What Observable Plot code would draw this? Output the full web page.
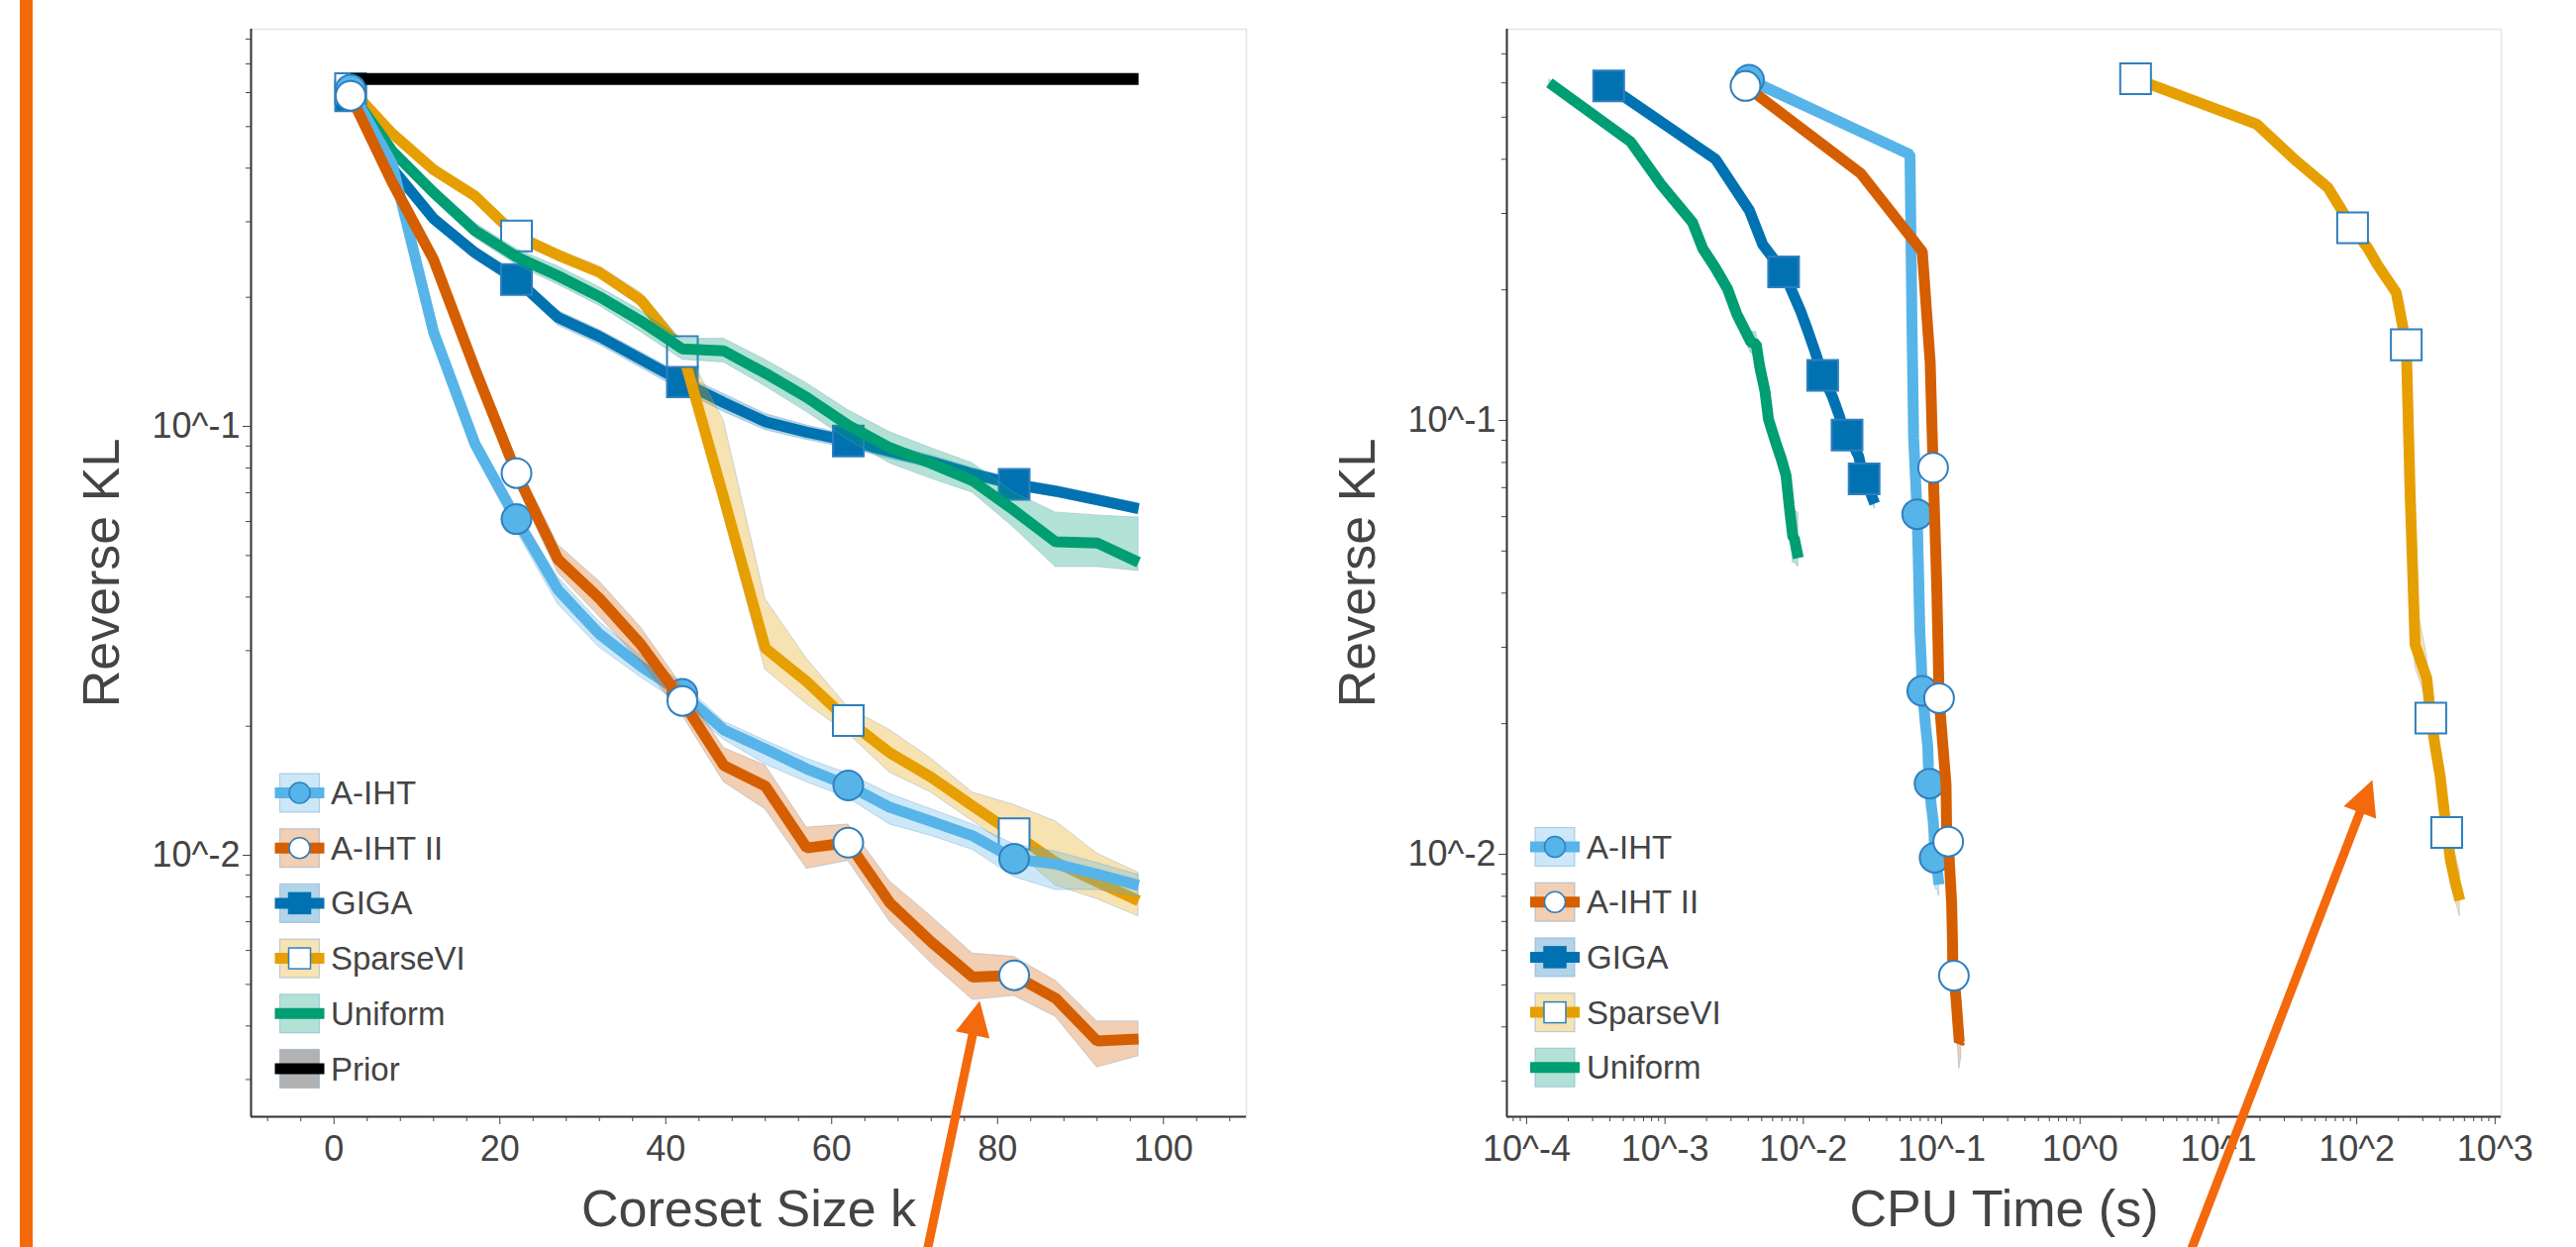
<!DOCTYPE html>
<html>
<head>
<meta charset="utf-8">
<script src="https://cdn.jsdelivr.net/npm/d3@7"></script>
<script src="https://cdn.jsdelivr.net/npm/@observablehq/plot@0.6"></script>
<style>
  html, body { margin: 0; padding: 0; background: #ffffff; }
  #root { position: relative; width: 2601px; height: 1259px; overflow: hidden; background: #ffffff;
          font-family: "Liberation Sans", Arial, Helvetica, sans-serif; }
  .panel { position: absolute; top: 0; }
  #sidebar { position: absolute; left: 20px; top: 0; width: 13px; height: 1259px; background: #F4690C; }
  #legend { position: absolute; left: 0; top: 0; pointer-events: none; }
</style>
</head>
<body>
<div id="root"><div id="sidebar"></div></div>
<script>
// ---------------- data ----------------
const coresetSizes = [2, 7, 12, 17, 22, 27, 32, 37, 42, 47, 52, 57, 62, 67, 72, 77, 82, 87, 92, 97];
const markerIndex = [0, 4, 8, 12, 16];

const klAIHT = [0.61, 0.41, 0.166, 0.091, 0.0608, 0.0416, 0.0328, 0.0276, 0.0238, 0.0196, 0.0177, 0.0159, 0.01455, 0.01294, 0.0120, 0.0111, 0.00982, 0.00954, 0.00904, 0.00851];
const loAIHT = [0.59, 0.40, 0.158, 0.086, 0.057, 0.0385, 0.0305, 0.026, 0.0224, 0.0186, 0.0163, 0.0148, 0.0136, 0.0118, 0.0111, 0.0103, 0.0089, 0.0083, 0.0083, 0.0080];
const hiAIHT = [0.63, 0.42, 0.174, 0.096, 0.064, 0.0445, 0.035, 0.0292, 0.0252, 0.0205, 0.0185, 0.0168, 0.0155, 0.0139, 0.0128, 0.0118, 0.0106, 0.0102, 0.0096, 0.0090];
const cpuAIHT = [0.00405, 0.059, 0.061, 0.0627, 0.0665, 0.0684, 0.0695, 0.0713, 0.0724, 0.0767, 0.0794, 0.0802, 0.0817, 0.0841, 0.0867, 0.0881, 0.0889, 0.0903, 0.0935, 0.0957];

const klAIHT2 = [0.59, 0.371, 0.245, 0.136, 0.0778, 0.049, 0.0397, 0.031, 0.0229, 0.0162, 0.0145, 0.0104, 0.0107, 0.00775, 0.00628, 0.0052, 0.00525, 0.00464, 0.00369, 0.00373];
const loAIHT2 = [0.58, 0.36, 0.236, 0.128, 0.073, 0.0455, 0.036, 0.0282, 0.0212, 0.0148, 0.0128, 0.0093, 0.0097, 0.0070, 0.0056, 0.0046, 0.0047, 0.0042, 0.0032, 0.0034];
const hiAIHT2 = [0.60, 0.38, 0.256, 0.144, 0.083, 0.053, 0.0435, 0.034, 0.0248, 0.0178, 0.0162, 0.0116, 0.0118, 0.0087, 0.0072, 0.0059, 0.0058, 0.0051, 0.0041, 0.0041];
const cpuAIHT2 = [0.00382, 0.026, 0.0724, 0.0826, 0.0867, 0.0907, 0.0924, 0.094, 0.0957, 0.1045, 0.1075, 0.109, 0.1115, 0.118, 0.1197, 0.1205, 0.1225, 0.127, 0.134, 0.1387];

const klGIGA = [0.59, 0.40, 0.305, 0.254, 0.220, 0.1795, 0.162, 0.1435, 0.127, 0.1136, 0.1025, 0.0969, 0.0925, 0.0875, 0.0827, 0.0775, 0.0733, 0.0706, 0.0674, 0.0643];
const loGIGA = [0.58, 0.388, 0.295, 0.245, 0.212, 0.172, 0.155, 0.137, 0.121, 0.108, 0.098, 0.093, 0.089, 0.084, 0.080, 0.075, 0.071, 0.0685, 0.0655, 0.0625];
const hiGIGA = [0.60, 0.412, 0.315, 0.263, 0.228, 0.186, 0.168, 0.149, 0.132, 0.119, 0.107, 0.1005, 0.0955, 0.0905, 0.0855, 0.080, 0.0755, 0.0727, 0.0693, 0.0662];
const cpuGIGA = [0.000392, 0.00232, 0.00407, 0.0051, 0.0072, 0.0095, 0.0107, 0.0122, 0.0138, 0.0162, 0.0182, 0.0192, 0.0207, 0.023, 0.0251, 0.0263, 0.0275, 0.0292, 0.031, 0.0328];

const klSparseVI = [0.613, 0.482, 0.3966, 0.3445, 0.278, 0.2508, 0.2286, 0.197, 0.1494, 0.068, 0.0304, 0.0254, 0.0206, 0.01734, 0.0152, 0.01303, 0.01122, 0.00964, 0.00868, 0.00783];
const loSparseVI = [0.60, 0.47, 0.387, 0.335, 0.270, 0.244, 0.222, 0.190, 0.142, 0.062, 0.0271, 0.0225, 0.0192, 0.0156, 0.0140, 0.0120, 0.0103, 0.0085, 0.0079, 0.0072];
const hiSparseVI = [0.625, 0.495, 0.407, 0.354, 0.287, 0.258, 0.236, 0.205, 0.158, 0.103, 0.0396, 0.0287, 0.0221, 0.0196, 0.0168, 0.0140, 0.0131, 0.0120, 0.0101, 0.0091];
const cpuSparseVI = [2.52, 18.9, 36.5, 61.7, 93.3, 119, 141, 193, 228, 243, 264, 321, 343, 373, 400, 423, 447, 477, 513, 556];

const klUniform = [0.60, 0.439, 0.351, 0.286, 0.2486, 0.2244, 0.2006, 0.176, 0.1516, 0.150, 0.133, 0.1168, 0.1006, 0.0892, 0.082, 0.0747, 0.0637, 0.0538, 0.0535, 0.0482];
const loUniform = [0.59, 0.425, 0.338, 0.275, 0.238, 0.214, 0.191, 0.166, 0.143, 0.141, 0.124, 0.108, 0.093, 0.082, 0.0755, 0.070, 0.058, 0.047, 0.047, 0.046];
const hiUniform = [0.61, 0.452, 0.364, 0.298, 0.259, 0.236, 0.211, 0.186, 0.160, 0.160, 0.143, 0.126, 0.109, 0.097, 0.089, 0.082, 0.070, 0.063, 0.062, 0.0613];
const cpuUniform = [0.000146, 0.000565, 0.00093, 0.00158, 0.00188, 0.00232, 0.00284, 0.0033, 0.00418, 0.00456, 0.00484, 0.00528, 0.0056, 0.0063, 0.0069, 0.0075, 0.0079, 0.0084, 0.0086, 0.0092];

const klPrior = [0.646, 0.646, 0.646, 0.646, 0.646, 0.646, 0.646, 0.646, 0.646, 0.646, 0.646, 0.646, 0.646, 0.646, 0.646, 0.646, 0.646, 0.646, 0.646, 0.646];

const legendLeft = ["A-IHT", "A-IHT II", "GIGA", "SparseVI", "Uniform", "Prior"];
const legendRight = ["A-IHT", "A-IHT II", "GIGA", "SparseVI", "Uniform"];
const drawOrder = ["GIGA", "SparseVI", "Uniform", "Prior", "A-IHT", "A-IHT II"];

const xTicksLeft = [0, 20, 40, 60, 80, 100];
const xTickLabelsLeft = ["0", "20", "40", "60", "80", "100"];
const yTicks = [0.1, 0.01];
const yTickLabels = ["10^-1", "10^-2"];
const xTicksRight = [1e-4, 1e-3, 1e-2, 1e-1, 1e0, 1e1, 1e2, 1e3];
const xTickLabelsRight = ["10^-4", "10^-3", "10^-2", "10^-1", "10^0", "10^1", "10^2", "10^3"];

// annotation arrows (data coordinates of each panel)
const arrowLeft = [{x1: 71.6, y1: 0.001218, x2: 77.85, y2: 0.004576}];
const arrowRight = [{x1: 6.46, y1: 0.001241, x2: 129.7, y2: 0.01483}];

// ---------------- styling ----------------
const FONT = '"Liberation Sans", Arial, Helvetica, sans-serif';
const colorOf = {"A-IHT": "#56B4E9", "A-IHT II": "#D55E00", "GIGA": "#0072B2", "SparseVI": "#E69F00", "Uniform": "#009E73", "Prior": "#000000"};
const bandOf = {"A-IHT": "#56B4E9", "A-IHT II": "#D55E00", "GIGA": "#0072B2", "SparseVI": "#E69F00", "Uniform": "#009E73", "Prior": "#000000"};
const markerOf = {
  "A-IHT": {symbol: "circle", fill: "#56B4E9"},
  "A-IHT II": {symbol: "circle", fill: "#ffffff"},
  "GIGA": {symbol: "square", fill: "#0072B2"},
  "SparseVI": {symbol: "square", fill: "#ffffff"}
};
const markerStroke = "#2f7fbf";
const ORANGE = "#F4690C";
const TEXT = "#444444";

const seriesList = [
  {name: "A-IHT", kl: klAIHT, lo: loAIHT, hi: hiAIHT, cpu: cpuAIHT},
  {name: "A-IHT II", kl: klAIHT2, lo: loAIHT2, hi: hiAIHT2, cpu: cpuAIHT2},
  {name: "GIGA", kl: klGIGA, lo: loGIGA, hi: hiGIGA, cpu: cpuGIGA},
  {name: "SparseVI", kl: klSparseVI, lo: loSparseVI, hi: hiSparseVI, cpu: cpuSparseVI},
  {name: "Uniform", kl: klUniform, lo: loUniform, hi: hiUniform, cpu: cpuUniform},
  {name: "Prior", kl: klPrior, lo: null, hi: null, cpu: null}
];
const rowsByName = {};
for (const s of seriesList) {
  rowsByName[s.name] = coresetSizes.map((k, i) => ({
    method: s.name, i, k, kl: s.kl[i],
    lo: s.lo ? s.lo[i] : null, hi: s.hi ? s.hi[i] : null,
    cpu: s.cpu ? s.cpu[i] : null
  }));
}

// triangle with its tip at the origin, pointing up
const tipTriangle = {
  draw(context, size) {
    const L = Math.sqrt(size);
    context.moveTo(0, 0);
    context.lineTo(-L * 0.5, L);
    context.lineTo(L * 0.5, L);
    context.closePath();
  }
};

function minorLog(lo, hi) {
  const out = [];
  for (let e = Math.floor(Math.log10(lo)); e <= Math.ceil(Math.log10(hi)); e++) {
    for (let m = 2; m <= 9; m++) {
      const v = m * Math.pow(10, e);
      if (v >= lo && v <= hi) out.push(v);
    }
  }
  return out;
}

function buildPanel(cfg) {
  const {width, height, ml, mr, mt, mb, xKey, xType, xDomain, yDomain, methods,
         xTicks, xTickLabels, xMinor, xLabel, arrows} = cfg;
  const xLab = new Map(xTicks.map((v, i) => [v, xTickLabels[i]]));
  const yLab = new Map(yTicks.map((v, i) => [v, yTickLabels[i]]));
  const yMinor = minorLog(yDomain[0], yDomain[1]).filter(v => !yTicks.includes(v));

  // scales to orient arrowheads
  const sx = Plot.scale({x: {type: xType, domain: xDomain, range: [ml, width - mr]}});
  const sy = Plot.scale({y: {type: "log", domain: yDomain, range: [height - mb, mt]}});
  const arrowRows = arrows.map(a => {
    const dx = sx.apply(a.x2) - sx.apply(a.x1);
    const dy = sy.apply(a.y2) - sy.apply(a.y1);
    return {...a, angle: Math.atan2(dx, -dy) * 180 / Math.PI};
  });

  const marks = [];
  marks.push(Plot.frame({stroke: "#e3e3e3", strokeWidth: 1.5}));
  for (const name of drawOrder) {
    if (!methods.includes(name)) continue;
    const rows = rowsByName[name];
    const c = colorOf[name];
    if (rows[0].lo != null) {
      marks.push(Plot.areaY(rows, {x: xKey, y1: "lo", y2: "hi", fill: bandOf[name], fillOpacity: 0.3,
        stroke: "#6c9ec9", strokeOpacity: 0.35, strokeWidth: 1}));
    }
    marks.push(Plot.line(rows, {x: xKey, y: "kl", stroke: c, strokeWidth: name === "Prior" ? 12 : 11,
      strokeLinejoin: "bevel", strokeLinecap: "butt"}));
    const mk = markerOf[name];
    if (mk) {
      marks.push(Plot.dot(rows.filter(d => markerIndex.includes(d.i)), {x: xKey, y: "kl",
        symbol: mk.symbol, r: mk.symbol === "circle" ? 15 : 17.5, fill: mk.fill,
        stroke: markerStroke, strokeWidth: 2}));
    }
  }
  // axis lines
  marks.push(Plot.ruleX([xDomain[0]], {stroke: "#333", strokeWidth: 2}));
  marks.push(Plot.ruleY([yDomain[0]], {stroke: "#333", strokeWidth: 2}));
  // axes
  marks.push(Plot.axisX(xTicks, {tickSize: 8, tickPadding: 11, tickFormat: d => xLab.get(d),
    fontSize: 36, color: TEXT, label: null}));
  marks.push(Plot.axisX(xMinor, {tickSize: 5, stroke: TEXT, fill: "none", label: null}));
  marks.push(Plot.axisY(yTicks, {tickSize: 8, tickPadding: 3, tickFormat: d => yLab.get(d),
    fontSize: 36, color: TEXT, label: null}));
  marks.push(Plot.axisY(yMinor, {tickSize: 5, stroke: TEXT, fill: "none", label: null}));
  // axis titles
  marks.push(Plot.text(["Reverse KL"], {text: d => d, frameAnchor: "left", dx: -150, rotate: -90,
    textAnchor: "middle", lineAnchor: "middle", fontSize: 52, fill: TEXT}));
  marks.push(Plot.text([xLabel], {text: d => d, frameAnchor: "bottom", dy: 94,
    textAnchor: "middle", lineAnchor: "middle", fontSize: 52, fill: TEXT}));
  // annotation arrows
  marks.push(Plot.arrow(arrowRows, {x1: "x1", y1: "y1", x2: "x2", y2: "y2", stroke: ORANGE,
    strokeWidth: 9, headLength: 0, insetEnd: 22}));
  marks.push(Plot.dot(arrowRows, {x: "x2", y: "y2", symbol: tipTriangle, r: 19.75, fill: ORANGE,
    stroke: "none", rotate: "angle"}));

  return Plot.plot({
    width, height,
    marginLeft: ml, marginRight: mr, marginTop: mt, marginBottom: mb,
    style: {fontFamily: FONT, background: "transparent", overflow: "visible"},
    x: {type: xType, domain: xDomain},
    y: {type: "log", domain: yDomain},
    marks
  });
}

const root = document.getElementById("root");

const leftDomainX = [-10, 110];
const left = buildPanel({
  width: 1300, height: 1259, ml: 253, mr: 42, mt: 29, mb: 132,
  xKey: "k", xType: "linear", xDomain: leftDomainX, yDomain: [0.002457, 0.8434],
  methods: legendLeft,
  xTicks: xTicksLeft, xTickLabels: xTickLabelsLeft,
  xMinor: d3.range(-8, 110, 4).filter(v => !xTicksLeft.includes(v)),
  xLabel: "Coreset Size k",
  arrows: arrowLeft
});
left.classList.add("panel");
left.style.left = "0px";
root.appendChild(left);

const rightDomainX = [7.2e-5, 1107];
const right = buildPanel({
  width: 1301, height: 1259, ml: 221, mr: 76, mt: 29, mb: 132,
  xKey: "cpu", xType: "log", xDomain: rightDomainX, yDomain: [0.002483, 0.7976],
  methods: legendRight,
  xTicks: xTicksRight, xTickLabels: xTickLabelsRight,
  xMinor: minorLog(rightDomainX[0], rightDomainX[1]),
  xLabel: "CPU Time (s)",
  arrows: arrowRight
});
right.classList.add("panel");
right.style.left = "1300px";
root.appendChild(right);

// ---------------- legends ----------------
const legendSvg = d3.create("svg").attr("id", "legend").attr("width", 2601).attr("height", 1259)
  .style("font-family", FONT);
function drawLegend(names, cx, textX, y0, step) {
  names.forEach((name, i) => {
    const cy = y0 + i * step;
    const g = legendSvg.append("g").attr("transform", `translate(${cx},${cy})`);
    g.append("rect").attr("x", -20).attr("y", -19.5).attr("width", 40).attr("height", 39)
      .attr("fill", bandOf[name]).attr("fill-opacity", 0.3)
      .attr("stroke", "#6c9ec9").attr("stroke-opacity", 0.45).attr("stroke-width", 1.2);
    g.append("line").attr("x1", -25).attr("x2", 25).attr("y1", 0).attr("y2", 0)
      .attr("stroke", colorOf[name]).attr("stroke-width", 11);
    const mk = markerOf[name];
    if (mk && mk.symbol === "circle") {
      g.append("circle").attr("r", 10.5).attr("fill", mk.fill).attr("stroke", markerStroke).attr("stroke-width", 1.5);
    } else if (mk) {
      g.append("rect").attr("x", -11).attr("y", -10.5).attr("width", 22).attr("height", 21)
        .attr("fill", mk.fill).attr("stroke", name === "GIGA" ? colorOf[name] : markerStroke).attr("stroke-width", 1.5);
    }
    legendSvg.append("text").attr("x", textX).attr("y", cy).attr("dy", "0.35em")
      .attr("font-size", 33).attr("fill", TEXT).text(name);
  });
}
drawLegend(legendLeft, 302.5, 334, 800.5, 55.7);
drawLegend(legendRight, 1570, 1602, 855, 55.7);
root.appendChild(legendSvg.node());
</script>
</body>
</html>
